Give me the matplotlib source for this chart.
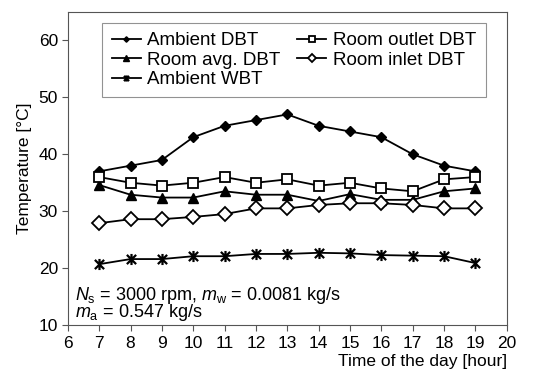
import matplotlib
matplotlib.use("Agg")
import matplotlib.pyplot as plt
from matplotlib.path import Path

plt.rcParams['font.family'] = ['Liberation Sans', 'DejaVu Sans']
plt.rcParams['mathtext.fontset'] = 'custom'
plt.rcParams['mathtext.rm'] = 'Liberation Sans'
plt.rcParams['mathtext.it'] = 'Liberation Sans:italic'

hours = [7, 8, 9, 10, 11, 12, 13, 14, 15, 16, 17, 18, 19]
ambient_dbt = [37, 38, 39, 43, 45, 46, 47, 45, 44, 43, 40, 38, 37]
room_avg_dbt = [34.6, 32.9, 32.4, 32.4, 33.5, 32.9, 32.9, 31.8, 33.0, 32.0, 32.0, 33.5, 34.0]
ambient_wbt = [20.7, 21.6, 21.6, 22.1, 22.1, 22.5, 22.5, 22.7, 22.6, 22.3, 22.2, 22.1, 20.9]
room_outlet_dbt = [36.0, 35.0, 34.5, 35.0, 36.0, 35.0, 35.6, 34.5, 35.0, 34.0, 33.5, 35.6, 36.0]
room_inlet_dbt = [27.9, 28.6, 28.6, 29.0, 29.5, 30.5, 30.5, 31.1, 31.4, 31.4, 31.1, 30.5, 30.5]

# star marker: an X crossed by a vertical bar
star = Path([(-1, -1), (1, 1), (-1, 1), (1, -1), (0, -1.2), (0, 1.2)],
            [Path.MOVETO, Path.LINETO, Path.MOVETO, Path.LINETO, Path.MOVETO, Path.LINETO])

fig = plt.figure(figsize=(5.34, 3.72), dpi=100)
ax = fig.add_axes([0.127, 0.126, 0.822, 0.842])

lw = 1.3
ax.plot(hours, ambient_dbt, color='k', lw=lw, marker='D', ms=5, label='Ambient DBT')
ax.plot(hours, room_avg_dbt, color='k', lw=lw, marker='^', ms=7, label='Room avg. DBT')
ax.plot(hours, ambient_wbt, color='k', lw=lw, marker=star, ms=8, mew=1.6, label='Ambient WBT')
ax.plot(hours, room_outlet_dbt, color='k', lw=lw, marker='s', ms=7, mfc='white', mew=1.3,
        label='Room outlet DBT')
ax.plot(hours, room_inlet_dbt, color='k', lw=lw, marker='D', ms=7, mfc='white', mew=1.3,
        label='Room inlet DBT')

ax.set_xlim(6, 20)
ax.set_ylim(10, 65)
ax.set_xticks(range(6, 21))
ax.set_yticks(range(10, 61, 10))
ax.tick_params(direction='out', length=4, width=0.8, color='#555555', labelsize=12.5)
ax.tick_params(axis='x', pad=4)
ax.tick_params(axis='y', pad=3)
for s in ax.spines.values():
    s.set_color('#555555')
    s.set_linewidth(0.8)

ax.set_ylabel('Temperature [°C]', fontsize=12.5, labelpad=5)
ax.set_xlabel('Time of the day [hour]', fontsize=12.5, loc='right', labelpad=2)

leg = ax.legend(ncol=2, loc='upper center', bbox_to_anchor=(0.515, 0.965), fontsize=13.5,
                frameon=True, fancybox=False, edgecolor='#777777', handlelength=1.55,
                handletextpad=0.35, columnspacing=0.9, labelspacing=0.12, borderpad=0.5,
                borderaxespad=0, markerscale=0.55)
leg.get_frame().set_linewidth(0.8)

ax.text(6.22, 10.3,
        '$N_\\mathrm{s}$ = 3000 rpm, $m_\\mathrm{w}$ = 0.0081 kg/s\n$m_\\mathrm{a}$ = 0.547 kg/s',
        fontsize=13, ha='left', va='bottom', linespacing=0.78)

fig.savefig('out.png', dpi=100)
